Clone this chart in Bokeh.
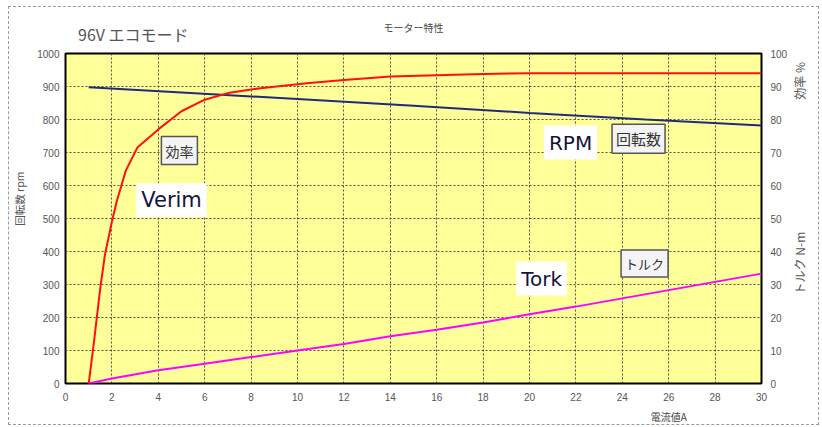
import numpy as np
from bokeh.plotting import figure
from bokeh.models import Range1d, LinearAxis, Label, FixedTicker
from bokeh.embed import file_html
from bokeh.resources import INLINE

# ---- data ----
current_eff = [1.0, 1.2, 1.5, 1.7, 2.0, 2.2, 2.6, 3.1, 4.0, 5.0, 6.0, 7.0, 8.4, 10.4, 12, 14, 16, 18, 20, 24, 30]
efficiency = [0, 11, 29, 39, 49, 55, 64.5, 71.5, 77, 82.5, 86, 88, 89.5, 91, 92, 93, 93.4, 93.8, 94, 94, 94]

current_rpm = [1, 5, 10, 15, 20, 25, 30]
rpm = [898, 882, 862, 842, 820, 800, 782]

current_torque = [1, 2, 4, 6, 8, 10, 12, 14, 16, 18, 20, 22, 24, 26, 28, 30]
torque = [0, 1.5, 4, 6, 8, 10, 12, 14.3, 16.3, 18.5, 21, 23.3, 25.8, 28.3, 30.8, 33.3]

x_ticks = list(range(0, 31, 2))
rpm_ticks = list(range(0, 1001, 100))
pct_ticks = list(range(0, 101, 10))

# texts that sit outside the plot area, with the axis value they sit at
title_main = {3: "96V  エコモード"}
title_sub = {15: "モーター特性"}
left_title = {560: "回転数 rpm"}
right_titles = {86: "効率 %", 27: "トルク N-m"}
bottom_title = {26: "電流値A"}

JP = "Noto Sans CJK JP"
W, H = 811, 419

p = figure(width=W, height=H, output_backend="svg", toolbar_location=None, title=None,
           x_range=Range1d(0, 30), y_range=Range1d(0, 1000),
           min_border_left=56, min_border_right=59, min_border_top=46, min_border_bottom=43,
           background_fill_color="#FFFF99", border_fill_color="white")
p.styles = {"border": "1px dashed #9a9a9a", "margin-left": "8px", "margin-top": "6px"}
p.extra_y_ranges = {"pct": Range1d(0, 100)}

p.outline_line_color = "black"
p.outline_line_width = 2

for g, t in ((p.xgrid, x_ticks), (p.ygrid, rpm_ticks)):
    g.ticker = FixedTicker(ticks=t)
    g.grid_line_color = "#333333"
    g.grid_line_dash = "2 2"
    g.grid_line_width = 1
    g.grid_line_alpha = 0.85

right = LinearAxis(y_range_name="pct")
p.add_layout(right, "right")

p.xaxis.ticker = FixedTicker(ticks=x_ticks)
p.yaxis[0].ticker = FixedTicker(ticks=rpm_ticks)
right.ticker = FixedTicker(ticks=pct_ticks)


def plain(ax):
    ax.axis_line_color = None
    ax.major_tick_line_color = None
    ax.minor_tick_line_color = None
    ax.major_tick_out = 0
    ax.major_tick_in = 0
    ax.minor_tick_out = 0
    ax.minor_tick_in = 0


for ax in p.xaxis + p.yaxis:
    plain(ax)
    ax.major_label_text_font = "Liberation Sans"
    ax.major_label_text_font_size = "10px"
    ax.major_label_text_color = "#555555"
p.xaxis.major_label_standoff = 9
p.yaxis[0].major_label_standoff = 6
right.major_label_standoff = 9


def text_axis(side, labels, size, standoff, color="#555555", orient=None, **kw):
    ax = LinearAxis(ticker=FixedTicker(ticks=list(labels.keys())), **kw)
    plain(ax)
    over = {}
    for k, v in labels.items():
        over[k] = v
        over[str(k)] = v
    ax.major_label_overrides = over
    ax.major_label_text_font = JP
    ax.major_label_text_font_size = size
    ax.major_label_text_color = color
    ax.major_label_standoff = standoff
    if orient is not None:
        ax.major_label_orientation = orient
    p.add_layout(ax, side)
    return ax


# ---- titles and axis titles ----
text_axis("above", title_main, "16px", 8)
text_axis("above", title_sub, "10px", -16, color="#444444")
text_axis("left", left_title, "10.5px", 7, orient="vertical")
text_axis("right", right_titles, "12px", 9, orient=np.pi / 2, y_range_name="pct")
text_axis("below", bottom_title, "10px", 5, color="#444444")

# ---- series ----
p.line(current_rpm, rpm, line_color="#1F2A80", line_width=2)
p.line(current_eff, efficiency, line_color="#FF1010", line_width=2, y_range_name="pct")
p.line(current_torque, torque, line_color="#FF00FF", line_width=2, y_range_name="pct")


def lab(x, y, text, size, font=JP, color="#333333", **kw):
    l = Label(x=x, y=y, text=text, text_font=font, text_font_size=size,
              text_color=color, text_align="center", text_baseline="middle", **kw)
    p.add_layout(l)
    return l


# ---- in-plot annotations ----
box = dict(background_fill_color="#F4F4F4", border_line_color="#555555", border_line_width=1.5, padding=4)
lab(4.91, 706, "効率", "14px", **box)
lab(24.7, 742, "回転数", "15px", **box)
lab(24.96, 364, "トルク", "13px", **box)

white = dict(background_fill_color="white", padding=5)
lab(4.57, 555, "Verim", "21px", font="DejaVu Sans", color="#14143C", **white)
lab(21.77, 730, "RPM", "20px", font="DejaVu Sans", color="#14143C", **white)
lab(20.52, 318, "Tork", "20px", font="DejaVu Sans", color="#14143C", **white)

open("out.html", "w").write(file_html(p, INLINE))
